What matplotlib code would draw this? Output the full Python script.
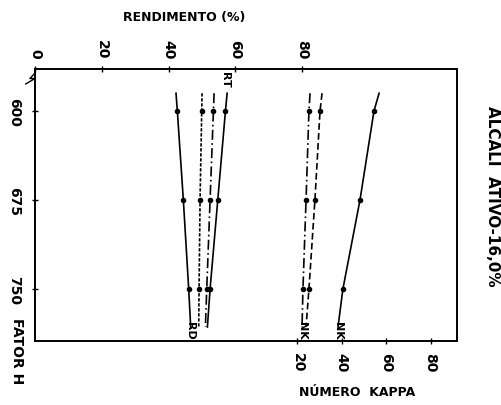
import matplotlib
matplotlib.use("Agg")
import matplotlib.pyplot as plt
import numpy as np

plt.rcParams['font.family'] = ['DejaVu Sans']

# Fator H positions (line start, data points, line end)
fator_h = [585, 600, 675, 750, 782]
data_idx = [1, 2, 3]

# Rendimento (%) series
rend_a = [42.2, 42.6, 44.4, 46.0, 46.6]
rend_b = [50.0, 49.9, 49.4, 49.1, 49.0]
rend_c = [53.6, 53.4, 52.4, 51.4, 51.0]
rend_rt = [57.5, 57.0, 54.7, 52.4, 51.6]

# Numero Kappa series
kappa_e = [25.7, 25.2, 23.9, 22.5, 22.1]
kappa_f = [31.1, 30.2, 27.9, 25.2, 23.9]
kappa_g = [56.8, 54.5, 48.2, 40.5, 38.3]

rend_ticks = [0, 20, 40, 60, 80]
kappa_ticks = [20, 40, 60, 80]
h_ticks = [600, 675, 750]

W, H = 501, 406
fig = plt.figure(figsize=(W/100, H/100), dpi=100)
L, R, T, B = 35, 457, 70, 342
ax = fig.add_axes([L/W, 1-B/H, (R-L)/W, (B-T)/H])
ax.set_xlim(0, 126.3)
ax.set_ylim(793.8, 564.6)
ax2 = ax.twiny()
ax2.set_xlim(-98.2, 91.9)
ax2.set_ylim(793.8, 564.6)

lw = 1.2
fs_tick = 10

ax.xaxis.tick_top()
ax.xaxis.set_label_position('top')
ax.set_xticks(rend_ticks)
ax.set_xticklabels([str(t) for t in rend_ticks], rotation=-90, fontsize=fs_tick, fontweight='bold')
ax.set_yticks(h_ticks)
ax.set_yticklabels([str(t) for t in h_ticks], rotation=-90, fontsize=fs_tick, fontweight='bold', va='center')
ax.tick_params(axis='y', direction='inout', length=4, width=1, pad=8)
ax.tick_params(axis='x', direction='inout', length=4, width=1, pad=6, top=True, bottom=False,
               labeltop=True, labelbottom=False)

ax2.xaxis.tick_bottom()
ax2.set_xticks(kappa_ticks)
ax2.set_xticklabels([str(t) for t in kappa_ticks], rotation=-90, fontsize=fs_tick, fontweight='bold')
ax2.tick_params(axis='x', direction='inout', length=4, width=1, pad=6, top=False, bottom=True,
                labeltop=False, labelbottom=True)

def plot_series(axis, vals, ls, dashes=None):
    line, = axis.plot(vals, fator_h, color='black', lw=lw, linestyle=ls)
    if dashes is not None:
        line.set_dashes(dashes)
    axis.plot([vals[i] for i in data_idx], [fator_h[i] for i in data_idx],
              linestyle='none', marker='o', ms=3, color='black')

plot_series(ax, rend_a, '-')
plot_series(ax, rend_b, '--', (2, 1))
plot_series(ax, rend_c, '--', (6, 2, 1, 2))
plot_series(ax, rend_rt, '-')

plot_series(ax2, kappa_e, '--', (6, 2, 1, 2))
plot_series(ax2, kappa_f, '--', (4, 2))
plot_series(ax2, kappa_g, '-')

for a in (ax, ax2):
    for s in a.spines.values():
        s.set_linewidth(1.2)

# end labels
lab_kw = dict(rotation=-90, fontsize=8, fontweight='bold', ha='center')
ax.text(rend_rt[0] - 0.5, 566, 'RT', va='top', **lab_kw)
ax.text(46.5, 792, 'RD', va='bottom', **lab_kw)
ax2.text(kappa_e[-1], 792, 'NK', va='bottom', **lab_kw)
ax2.text(kappa_g[-1], 792, 'NK', va='bottom', **lab_kw)

# axis break on left spine
bx = np.array([0.0, -0.012, 0.0, -0.022])
by = np.array([0.985, 0.965, 0.965, 0.945])
ax.plot(bx, by, transform=ax.transAxes, color='black', lw=1.0, clip_on=False)

fig.text(184/W, 1-17/H, 'RENDIMENTO (%)', ha='center', va='center', fontsize=9, fontweight='bold')
fig.text(357/W, 1-393/H, 'NÚMERO  KAPPA', ha='center', va='center', fontsize=9, fontweight='bold')
fig.text(17/W, 1-318/H, 'FATOR H', rotation=-90, ha='center', va='top', fontsize=fs_tick, fontweight='bold')
fig.text(493/W, 1-196/H, 'ÁLCALI  ATIVO-16,0%', rotation=-90, ha='center', va='center', fontsize=11, fontweight='bold')

fig.savefig('out.png', dpi=100)
